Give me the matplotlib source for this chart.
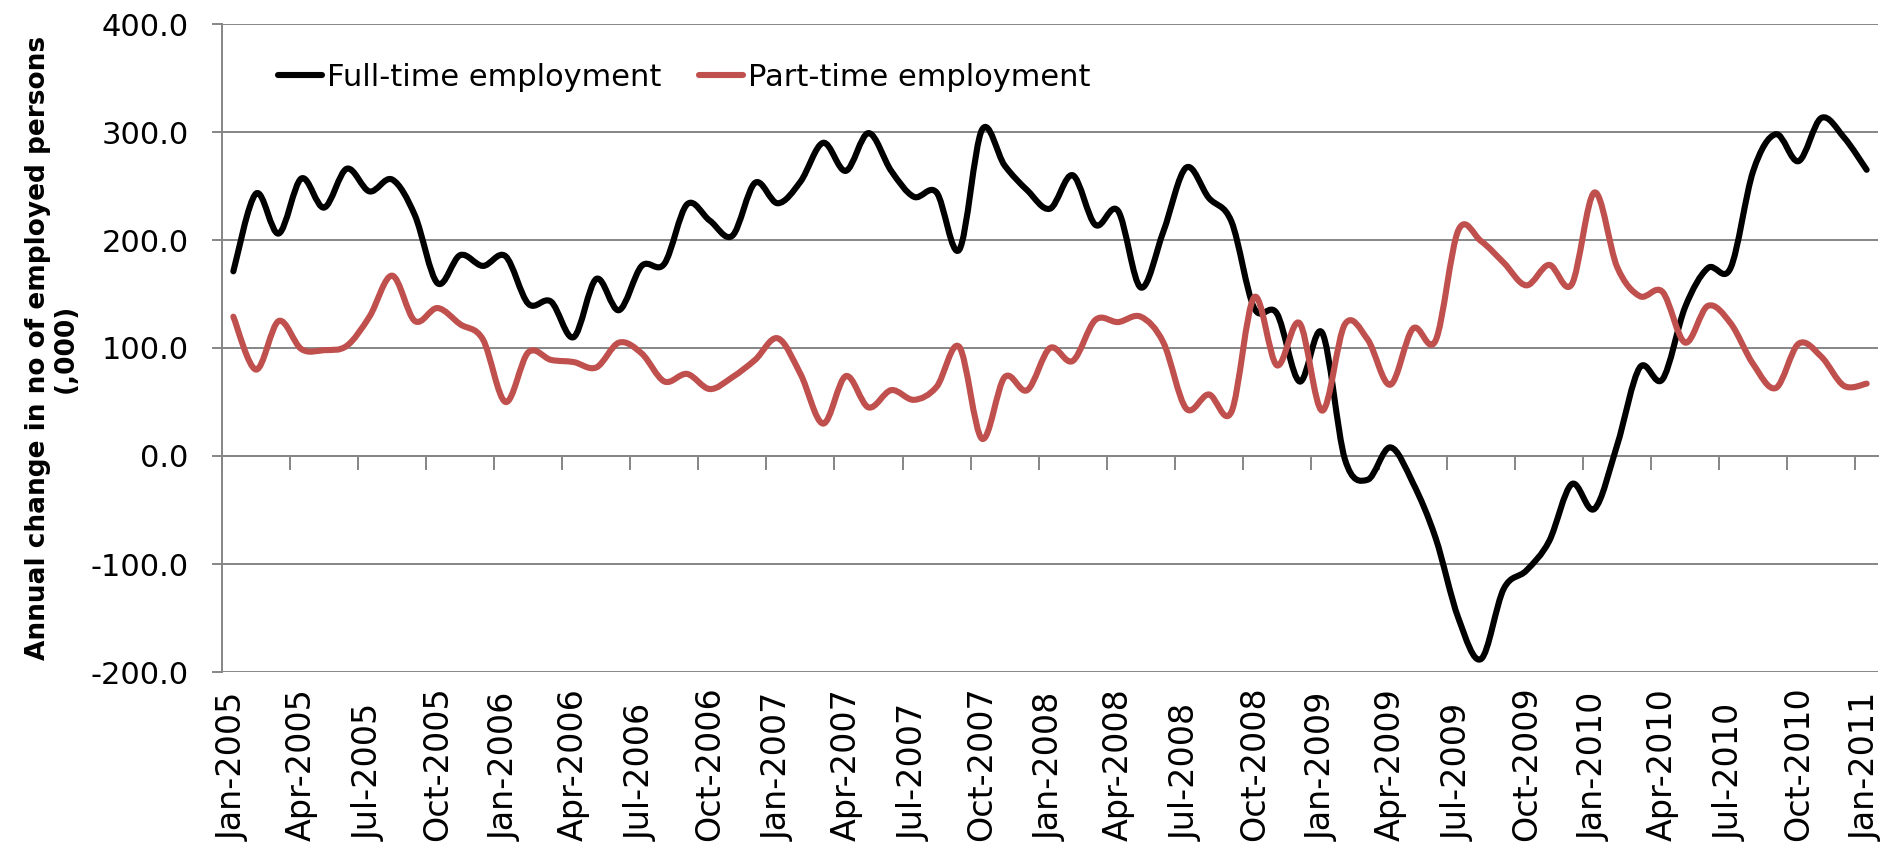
import numpy as np
import matplotlib
matplotlib.use('Agg')
import matplotlib.pyplot as plt
from matplotlib.path import Path
from matplotlib.patches import PathPatch
from matplotlib.lines import Line2D
from matplotlib.ticker import FormatStrFormatter
from matplotlib import font_manager as fm

# ---------------- data ----------------
tick_labels = ['Jan-2005', 'Apr-2005', 'Jul-2005', 'Oct-2005',
               'Jan-2006', 'Apr-2006', 'Jul-2006', 'Oct-2006',
               'Jan-2007', 'Apr-2007', 'Jul-2007', 'Oct-2007',
               'Jan-2008', 'Apr-2008', 'Jul-2008', 'Oct-2008',
               'Jan-2009', 'Apr-2009', 'Jul-2009', 'Oct-2009',
               'Jan-2010', 'Apr-2010', 'Jul-2010', 'Oct-2010',
               'Jan-2011']

full_time = [171, 243, 206, 257, 230, 266, 245, 256, 223, 160, 186, 176,
             185, 141, 143, 110, 164, 135, 176, 178, 233, 218, 204, 253,
             234, 254, 290, 264, 299, 264, 240, 244, 191, 302, 269, 246,
             229, 260, 214, 227, 156, 208, 267, 239, 217, 137, 132, 69,
             114, -3, -22, 8, -25, -76, -150, -188, -123, -106, -79, -26,
             -49, 10, 82, 71, 138, 174, 174, 264, 298, 273, 313, 295,
             265]

part_time = [129, 80, 125, 99, 98, 102, 129, 167, 125, 137, 122, 108,
             50, 96, 89, 87, 82, 105, 95, 69, 76, 62, 73, 89,
             109, 76, 30, 74, 45, 61, 52, 64, 101, 16, 73, 61,
             100, 88, 126, 124, 129, 105, 44, 57, 41, 147, 84, 123,
             42, 122, 108, 66, 118, 107, 209, 199, 179, 158, 177, 159,
             244, 175, 148, 152, 105, 139, 123, 85, 63, 104, 92, 65,
             67]

series_names = ['Full-time employment', 'Part-time employment']
series_colors = ['#000000', '#C0504D']
y_label = 'Annual change in no of employed persons\n(,000)'

# ---------------- fonts ----------------
def has_font(name):
    try:
        fm.findfont(fm.FontProperties(family=name), fallback_to_default=False)
        return True
    except Exception:
        return False

NARROW = has_font('Liberation Sans Narrow')
if NARROW:
    tick_font = ['Liberation Sans Narrow', 'DejaVu Sans']
    ytick_size = 26
    legend_size = 28
else:
    tick_font = ['DejaVu Sans']
    ytick_size = 22
    legend_size = 22

GRID = '#868686'
PX = 100 / 72.0  # pixels per point


def smooth_path(xs, ys):
    """Excel-like smoothed line: cubic Bezier through every data point."""
    pts = np.column_stack([xs, ys]).astype(float)
    n = len(pts)
    verts = [pts[0]]
    codes = [Path.MOVETO]
    for i in range(n - 1):
        p0 = pts[i - 1] if i > 0 else pts[i]
        p1 = pts[i]
        p2 = pts[i + 1]
        p3 = pts[i + 2] if i + 2 < n else pts[i + 1]
        verts += [p1 + (p2 - p0) / 6.0, p2 - (p3 - p1) / 6.0, p2]
        codes += [Path.CURVE4] * 3
    return Path(verts, codes)


fig = plt.figure(figsize=(18.93, 8.51), dpi=100)
W, H = 1893, 851
ax = fig.add_axes([222 / W, 1 - 672 / H, 1656 / W, 648 / H])

n = len(full_time)
x = np.arange(n)
ax.set_xlim(-0.5, n - 0.5)
ax.set_ylim(-200, 400)

for vals, col in zip([full_time, part_time], series_colors):
    patch = PathPatch(smooth_path(x, vals), facecolor='none', edgecolor=col,
                      lw=4.4, capstyle='round', joinstyle='round', zorder=3)
    ax.add_patch(patch)

# y axis
ax.set_yticks(np.arange(-200, 401, 100))
ax.yaxis.set_major_formatter(FormatStrFormatter('%.1f'))
ax.yaxis.grid(True, color=GRID, lw=1.4)
ax.set_axisbelow(True)
ax.tick_params(axis='y', length=7, width=1.4, color=GRID, pad=17,
               labelsize=ytick_size)
for t in ax.get_yticklabels():
    t.set_family(tick_font)

for s in ['top', 'right', 'bottom']:
    ax.spines[s].set_visible(False)
ax.spines['left'].set_color(GRID)
ax.spines['left'].set_linewidth(1.4)

# x labels (at bottom, aligned at their start)
ax.set_xticks(np.arange(0, n, 3))
ax.set_xticklabels(tick_labels)
ax.tick_params(axis='x', length=0, pad=122, labelsize=24)
for t in ax.get_xticklabels():
    t.set_rotation(90)
    t.set_va('bottom')
    t.set_ha('center')
    t.set_family('DejaVu Sans')

# category axis line crossing at y = 0 with tick marks between categories
ymin, ymax = ax.get_ylim()
sec = ax.secondary_xaxis((0 - ymin) / (ymax - ymin))
sec.set_xticks(np.arange(-0.5, n - 0.5, 3))
sec.tick_params(axis='x', length=10, width=1.4, color=GRID,
                labelbottom=False, labeltop=False)
for s in sec.spines.values():
    s.set_color(GRID)
    s.set_linewidth(1.4)

# y label
ax.set_ylabel(y_label, fontsize=19, fontweight='bold', family='DejaVu Sans',
              linespacing=1.1, multialignment='center', va='center')
ax.yaxis.set_label_coords(-0.1027, 0.5)

# legend
fs_px = legend_size * PX
handles = [Line2D([], [], color=c, lw=4.4, solid_capstyle='round') for c in series_colors]
leg = ax.legend(handles, series_names, loc='center left',
                bbox_to_anchor=((278 - 222) / 1656, (672 - 77) / 648),
                ncol=2, frameon=False, borderpad=0, borderaxespad=0,
                handlelength=44 / fs_px, handletextpad=5 / fs_px,
                columnspacing=38 / fs_px,
                prop=fm.FontProperties(family=tick_font, size=legend_size))

fig.savefig('out.png', dpi=100)
